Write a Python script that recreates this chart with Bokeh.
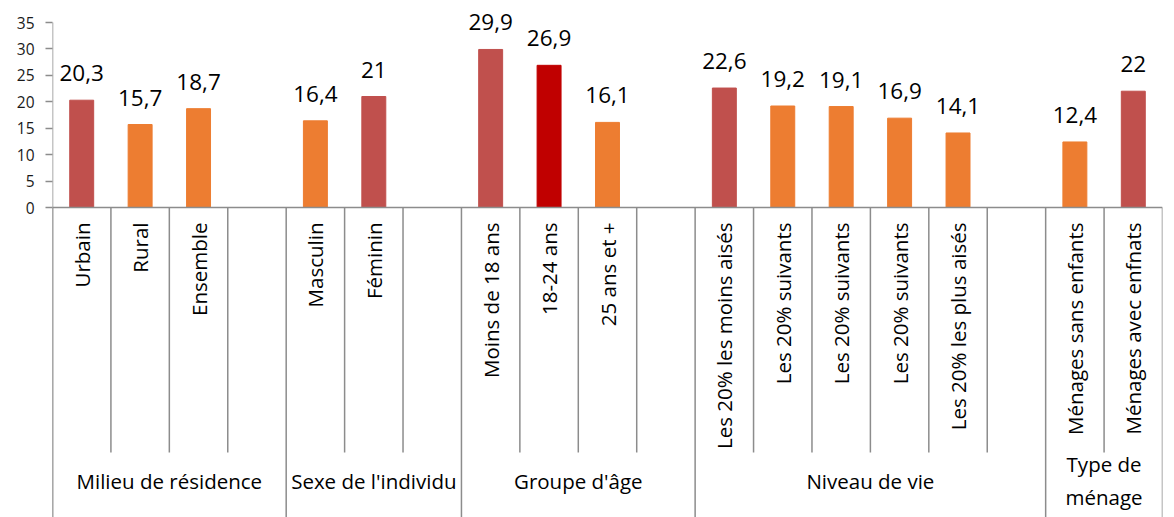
import math
from bokeh.plotting import figure
from bokeh.models import Range1d, ColumnDataSource, FixedTicker
from bokeh.core.properties import value
from bokeh.embed import file_html
from bokeh.resources import INLINE

# ---------------- data ----------------
groups = ["Milieu de résidence", "Sexe de l'individu", "Groupe d'âge", "Niveau de vie", "Type de\nménage"]
cat_milieu = ["Urbain", "Rural", "Ensemble"]
cat_sexe = ["Masculin", "Féminin"]
cat_age = ["Moins de 18 ans", "18-24 ans", "25 ans et +"]
cat_niveau = ["Les 20% les moins aisés", "Les 20% suivants", "Les 20% suivants", "Les 20% suivants", "Les 20% les plus aisés"]
cat_menage = ["Ménages sans enfants", "Ménages avec enfnats"]
val_milieu = [20.3, 15.7, 18.7]
val_sexe = [16.4, 21.0]
val_age = [29.9, 26.9, 16.1]
val_niveau = [22.6, 19.2, 19.1, 16.9, 14.1]
val_menage = [12.4, 22.0]
y_ticks = [0, 5, 10, 15, 20, 25, 30, 35]

categories = [cat_milieu, cat_sexe, cat_age, cat_niveau, cat_menage]
values = [val_milieu, val_sexe, val_age, val_niveau, val_menage]

# ---------------- styles ----------------
RED = "#C0504D"
ORANGE = "#ED7D31"
DARKRED = "#C00000"
bar_colors = [[RED, ORANGE, ORANGE], [ORANGE, RED], [RED, DARKRED, ORANGE],
              [RED, ORANGE, ORANGE, ORANGE, ORANGE], [ORANGE, RED]]
GRID = "#8C8C8C"
FONT = "Open Sans"

# ---------------- layout ----------------
PPU = 185.0 / 35.0          # pixels per data unit
ZERO_PX = 207               # canvas px of y=0
H = 517
Y_TOP = ZERO_PX / PPU
Y_BOT = -(H - ZERO_PX) / PPU
TICK_BOTTOM = -245 / PPU
CAT_Y = -15 / PPU
GROUP_Y = -273 / PPU

xs, tops, cols, labels, cats = [], [], [], [], []
boundaries_long = [0]
group_centers = []
slot = 0
for gi, (cs, vs, cc) in enumerate(zip(categories, values, bar_colors)):
    start = slot
    for c, v, col in zip(cs, vs, cc):
        xs.append(slot + 0.5)
        tops.append(v)
        cols.append(col)
        labels.append(f"{v:g}".replace(".", ","))
        cats.append(c)
        slot += 1
    if gi < len(categories) - 1:
        slot += 1  # empty slot
    group_centers.append((start + slot) / 2)
    boundaries_long.append(slot)
NSLOTS = slot
boundaries_short = [b for b in range(1, NSLOTS) if b not in boundaries_long]

p = figure(width=1166, height=H, output_backend="svg", toolbar_location=None,
           x_range=Range1d(0, NSLOTS), y_range=Range1d(Y_BOT, Y_TOP),
           x_axis_location=None, min_border_left=52, min_border_right=4,
           min_border_top=0, min_border_bottom=0)
p.outline_line_color = None
p.grid.visible = False
p.background_fill_color = "white"

ax = p.yaxis[0]
ax.ticker = FixedTicker(ticks=y_ticks)
ax.axis_line_color = None
ax.major_tick_line_color = GRID
ax.major_tick_line_width = 1.5
ax.major_tick_out = 7
ax.major_tick_in = 0
ax.minor_tick_line_color = None
ax.major_label_text_font = FONT
ax.major_label_text_font_size = "15.5px"
ax.major_label_text_color = "#1a1a1a"
ax.major_label_standoff = 11

src = ColumnDataSource(dict(x=xs, top=tops, color=cols, label=labels, cat=cats))
p.vbar(x="x", top="top", bottom=0, width=0.41, color="color", source=src)

# axis lines
p.segment(x0=[0], y0=[35], x1=[0], y1=[Y_BOT], line_color=GRID, line_width=1.5)
p.segment(x0=[0], y0=[0], x1=[NSLOTS], y1=[0], line_color=GRID, line_width=1.5)
p.segment(x0=boundaries_short, y0=[0] * len(boundaries_short), x1=boundaries_short,
          y1=[TICK_BOTTOM] * len(boundaries_short), line_color=GRID, line_width=1.5)
p.segment(x0=boundaries_long, y0=[0] * len(boundaries_long), x1=boundaries_long,
          y1=[Y_BOT] * len(boundaries_long), line_color=GRID, line_width=1.5)

# value labels
p.text(x="x", y="top", text="label", source=src, text_align="center",
       text_baseline="alphabetic", y_offset=-27, text_font=value(FONT),
       text_font_size="22.5px", text_color="black")

# category labels
p.text(x="x", y=CAT_Y, text="cat", source=src, angle=math.pi / 2,
       text_align="right", text_baseline="middle", text_font=value(FONT),
       text_font_size="20.5px", text_color="black")

# group labels
p.text(x=group_centers, y=[GROUP_Y] * len(groups), text=groups, text_align="center",
       text_baseline="middle", text_font=value(FONT), text_font_size="20.5px",
       text_color="black", text_line_height=1.15)

open("out.html", "w").write(file_html(p, INLINE))
